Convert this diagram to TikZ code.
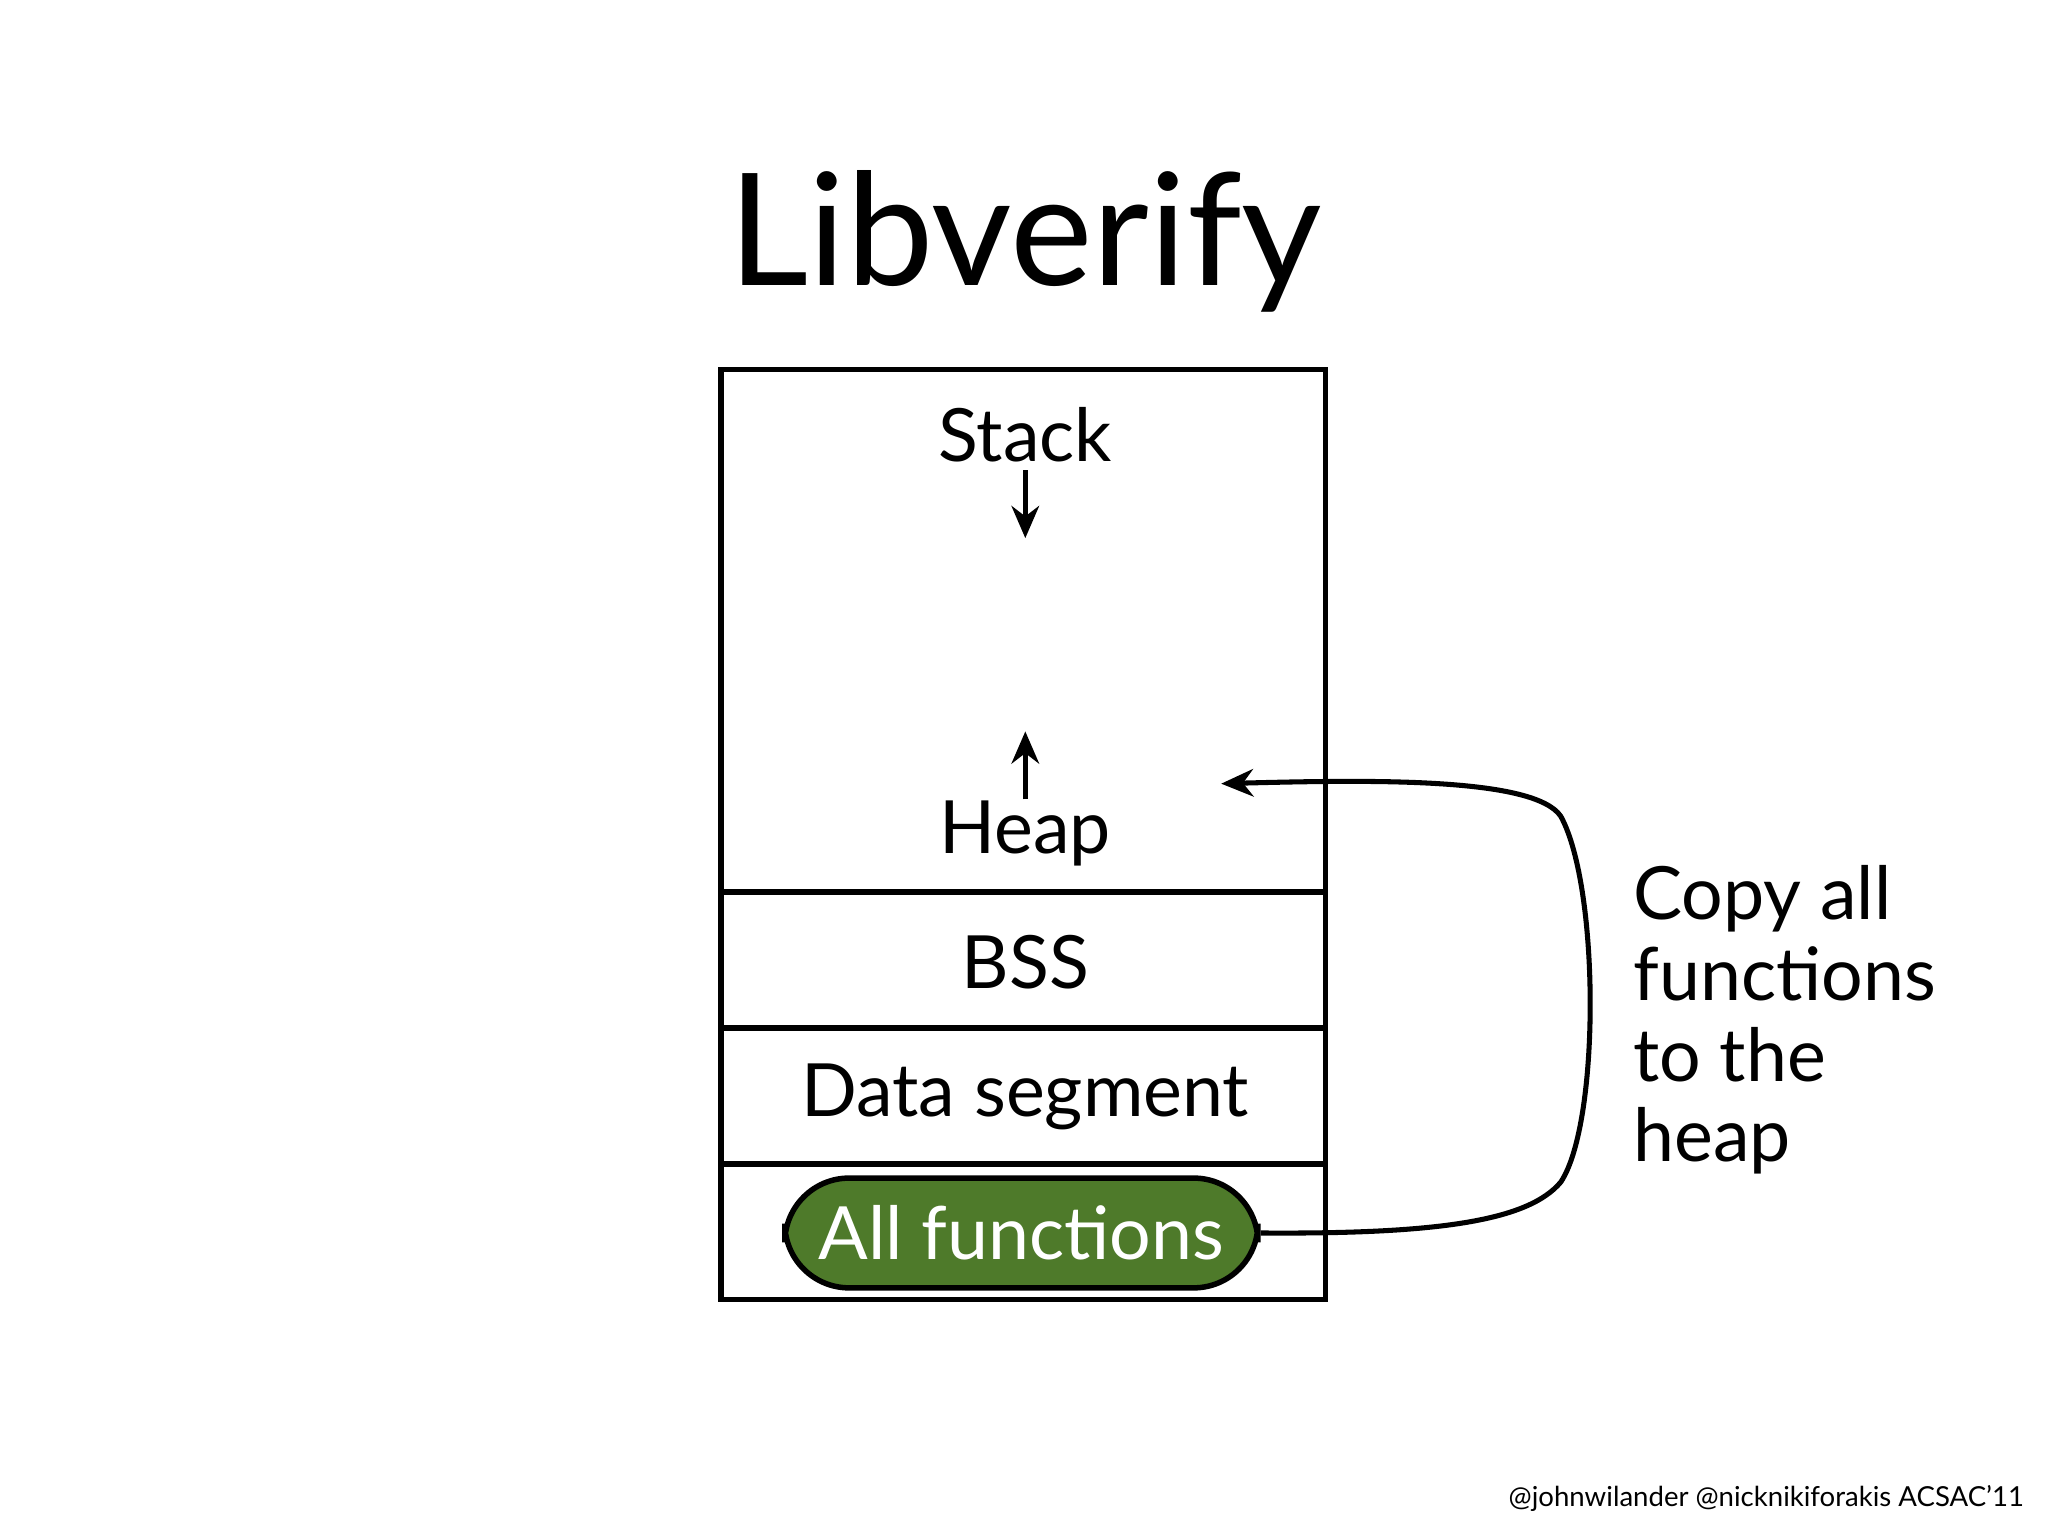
\documentclass[tikz,border=0pt]{standalone}
\usepackage{fontspec}
\setmainfont{Lato}
\usetikzlibrary{arrows.meta}
\begin{document}
\begin{tikzpicture}[x=0.01cm,y=-0.01cm,
  seg/.style={draw,line width=1.2pt},
  lbl/.style={font=\fontsize{16}{19}\selectfont},
  arr/.style={-{Stealth[length=7pt,width=6pt]},line width=1.1pt}]
\useasboundingbox (0,0) rectangle (1568,1176);
\node[font=\fontsize{34}{38}\selectfont] (title) at (785,185) {Libverify};
\draw[seg] (552,283) rectangle (1015,995);
\draw[seg] (552,683) -- (1015,683);
\draw[seg] (552,787) -- (1015,787);
\draw[seg] (552,891) -- (1015,891);
\node[lbl] (stack) at (785,333) {Stack};
\node[lbl] (heap) at (785,638) {Heap};
\node[lbl] (bss) at (785,737) {BSS};
\node[lbl] (data) at (785,840) {Data segment};
\coordinate (s1) at (785,360); \coordinate (s2) at (785,412);
\coordinate (h1) at (785,612); \coordinate (h2) at (785,560);
\draw[arr] (s1) -- (s2);
\draw[arr] (h1) -- (h2);
\node[draw,line width=1.2pt,rounded corners=14pt,fill={rgb,255:red,78;green,122;blue,42},
  minimum width=3.62cm,minimum height=0.84cm,inner sep=0pt,
  lbl,text=white] (allf) at (782,944) {All functions};
\coordinate (hp) at (935,600);
\draw[arr] (allf.east) .. controls (1100,945) and (1170,935) .. (1195,905)
  .. controls (1225,860) and (1225,680) .. (1195,625)
  .. controls (1175,595) and (1050,597) .. (hp);
\node[lbl,align=left,anchor=north west,font=\fontsize{16}{17.6}\selectfont] (copy) at (1238,650)
  {Copy all\\functions\\to the\\heap};
\node[anchor=south east,font=\fontsize{6}{8}\selectfont] (foot) at (1562,1170)
  {@johnwilander @nicknikiforakis ACSAC'11};
\end{tikzpicture}
\end{document}
